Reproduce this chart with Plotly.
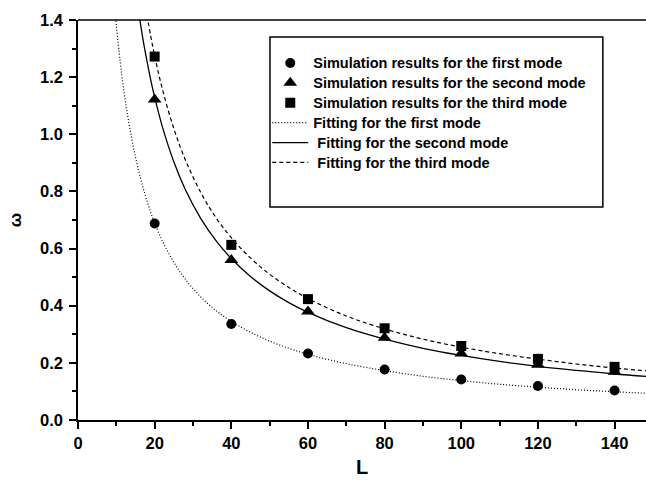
import plotly.graph_objects as go

# ---- data ----
L_sim = [20, 40, 60, 80, 100, 120, 140]
omega_mode1 = [0.688, 0.336, 0.233, 0.177, 0.142, 0.119, 0.103]
omega_mode2 = [1.122, 0.560, 0.380, 0.288, 0.233, 0.193, 0.169]
omega_mode3 = [1.272, 0.613, 0.423, 0.321, 0.259, 0.214, 0.186]

L_fit1 = [9.8, 11, 12, 13, 14, 15, 16, 17, 18, 19, 20, 22, 25, 28, 32, 36, 40, 45, 50, 55, 60, 70, 80, 90, 100, 110, 120, 130, 140, 149]
fit_mode1 = [1.408, 1.255, 1.150, 1.062, 0.986, 0.920, 0.863, 0.812, 0.767, 0.726, 0.690, 0.627, 0.552, 0.493, 0.431, 0.383, 0.345, 0.307, 0.276, 0.251, 0.230, 0.197, 0.173, 0.153, 0.138, 0.125, 0.115, 0.106, 0.099, 0.093]

L_fit2 = [16, 17, 18, 19, 20, 22, 25, 28, 32, 36, 40, 45, 50, 55, 60, 70, 80, 90, 100, 110, 120, 130, 140, 149]
fit_mode2 = [1.413, 1.329, 1.256, 1.189, 1.130, 1.027, 0.904, 0.807, 0.706, 0.628, 0.565, 0.502, 0.452, 0.411, 0.377, 0.323, 0.283, 0.251, 0.226, 0.205, 0.188, 0.174, 0.161, 0.152]

L_fit3 = [18, 19, 20, 22, 25, 28, 32, 36, 40, 45, 50, 55, 60, 70, 80, 90, 100, 110, 120, 130, 140, 149]
fit_mode3 = [1.417, 1.342, 1.275, 1.159, 1.020, 0.911, 0.797, 0.708, 0.638, 0.567, 0.510, 0.464, 0.425, 0.364, 0.319, 0.283, 0.255, 0.232, 0.213, 0.196, 0.182, 0.171]

names = [
    "Simulation results for the first mode",
    "Simulation results for the second mode",
    "Simulation results for the third mode",
    "Fitting for the first mode",
    " Fitting for the second mode",
    " Fitting for the third mode",
]
x_title = "L"
y_title = "ω"

FONT = "Liberation Sans, Arial, sans-serif"


def legend_label(txt):
    return '<span style="font-size:14.5px">' + txt + '</span>'


fig = go.Figure()
fig.add_trace(go.Scatter(x=L_sim, y=omega_mode1, mode="markers", name=legend_label(names[0]),
                         marker=dict(symbol="circle", size=10, color="black")))
fig.add_trace(go.Scatter(x=L_sim, y=omega_mode2, mode="markers", name=legend_label(names[1]),
                         marker=dict(symbol="triangle-up", size=12, color="black")))
fig.add_trace(go.Scatter(x=L_sim, y=omega_mode3, mode="markers", name=legend_label(names[2]),
                         marker=dict(symbol="square", size=10, color="black")))
fig.add_trace(go.Scatter(x=L_fit1, y=fit_mode1, mode="lines", name=legend_label(names[3]), line_shape="spline",
                         line=dict(color="black", width=1.2, dash="1px,2px")))
fig.add_trace(go.Scatter(x=L_fit2, y=fit_mode2, mode="lines", name=legend_label(names[4]), line_shape="spline",
                         line=dict(color="black", width=1.3)))
fig.add_trace(go.Scatter(x=L_fit3, y=fit_mode3, mode="lines", name=legend_label(names[5]), line_shape="spline",
                         line=dict(color="black", width=1.2, dash="4px,3px")))

axis_common = dict(
    showline=True, linecolor="black", linewidth=1.5, mirror=False,
    ticks="outside", ticklen=7, tickwidth=1.5, tickcolor="black",
    showgrid=False, zeroline=False, automargin=False,
    tickfont=dict(family=FONT, size=16.5, color="black", weight="bold"),
)

fig.update_xaxes(
    range=[0, 148.2], tick0=0, dtick=20,
    minor=dict(ticks="outside", ticklen=4, tickwidth=1.5, tickcolor="black", dtick=10),
    **axis_common,
)
fig.update_yaxes(
    range=[0, 1.4], tick0=0, dtick=0.2, tickformat=".1f",
    minor=dict(ticks="outside", ticklen=4, tickwidth=1.5, tickcolor="black", dtick=0.1),
    title=dict(text="<b>" + y_title + "</b>", font=dict(family=FONT, size=17, color="black"), standoff=14),
    ticklabelstandoff=3,
    **axis_common,
)

fig.update_layout(
    width=646, height=481,
    margin=dict(l=78, r=0, t=20, b=61),
    plot_bgcolor="white", paper_bgcolor="white",
    showlegend=True,
    legend=dict(
        x=0.3332, y=0.93, xanchor="left", yanchor="top",
        bgcolor="rgba(0,0,0,0)", borderwidth=0,
        font=dict(family=FONT, size=13, color="black", weight="bold"),
        itemwidth=36, tracegroupgap=0,
    ),
    annotations=[
        dict(text="<b>" + x_title + "</b>", xref="paper", yref="paper", x=0.5, y=-0.1175,
             xanchor="center", yanchor="middle", showarrow=False,
             font=dict(family=FONT, size=20, color="black")),
    ],
    shapes=[
        dict(type="line", xref="paper", yref="paper", x0=0, x1=1, y0=1, y1=1,
             line=dict(color="black", width=1.5)),
        dict(type="rect", xref="paper", yref="paper", x0=0.338, x1=0.924, y0=0.5325, y1=0.9575,
             line=dict(color="black", width=1.5), fillcolor="rgba(0,0,0,0)"),
    ],
)

fig.write_html("out.html")
